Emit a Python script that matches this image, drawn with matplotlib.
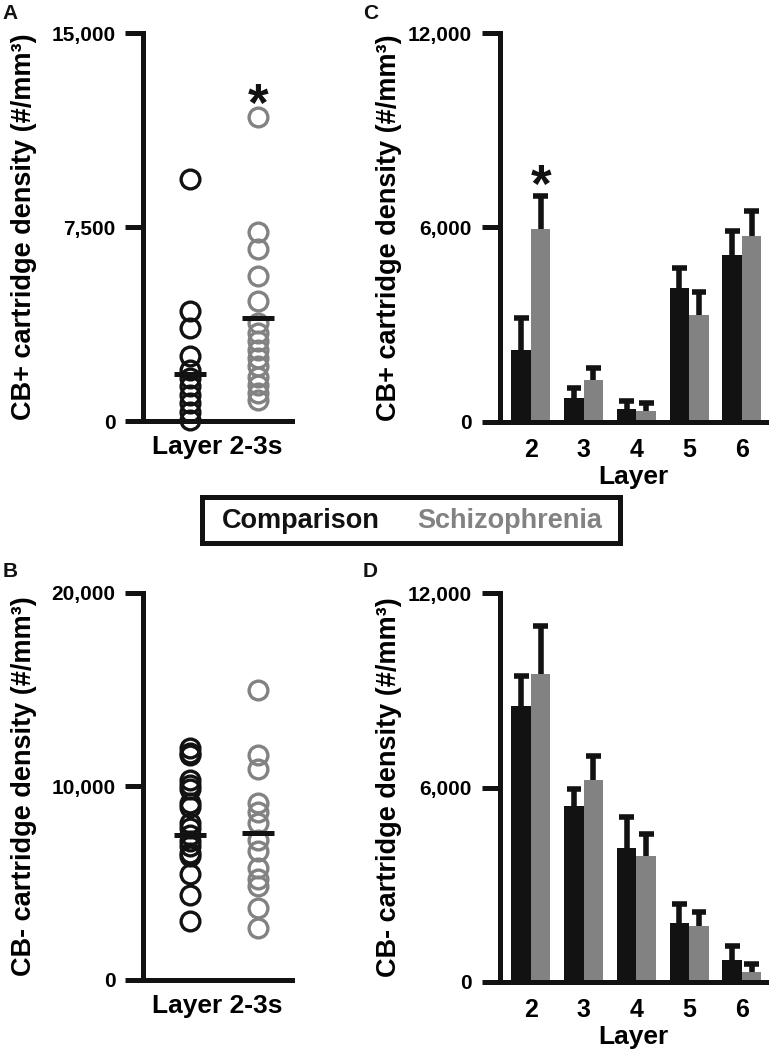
import numpy as np
import matplotlib
matplotlib.use("Agg")
import matplotlib.pyplot as plt
from matplotlib.patches import Rectangle

plt.rcParams['font.family'] = ['Liberation Sans', 'DejaVu Sans']
plt.rcParams['font.weight'] = 'bold'

BLACK = '#121212'
GRAY = '#828282'

# Panel A: CB+ density, layer 2-3s, individual subjects
a_comp = [9350, 4250, 3600, 2500, 1980, 1660, 1360, 1010, 690, 360, 40]
a_schiz = [11750, 7300, 6650, 5600, 4650, 3800, 3400, 3080, 2760, 2440,
           2110, 1720, 1400, 1080, 800]
a_means = [1800, 4000]
a_yticks = [0, 7500, 15000]
a_yticklabels = ['0', '7,500', '15,000']

# Panel B: CB- density, layer 2-3s
b_comp = [12000, 11750, 11650, 10350, 10100, 9850, 9150, 8950, 8100, 7850,
          7500, 7200, 6900, 6550, 6400, 5450, 4400, 3050]
b_schiz = [15000, 11650, 10900, 9150, 8700, 8100, 7250, 6650, 5800, 5200,
           4850, 3700, 2700]
b_means = [7500, 7600]
b_yticks = [0, 10000, 20000]
b_yticklabels = ['0', '10,000', '20,000']

# Panels C and D: mean + SEM by layer
layers = [2, 3, 4, 5, 6]
c_comp = [2200, 720, 380, 4120, 5150]
c_comp_err = [1000, 310, 260, 620, 750]
c_schiz = [5950, 1290, 340, 3300, 5740]
c_schiz_err = [1020, 360, 230, 720, 780]

d_comp = [8530, 5420, 4130, 1830, 680]
d_comp_err = [930, 520, 950, 580, 410]
d_schiz = [9510, 6240, 3900, 1710, 300]
d_schiz_err = [1490, 720, 660, 430, 260]
cd_yticks = [0, 6000, 12000]
cd_yticklabels = ['0', '6,000', '12,000']

ylab_plus = 'CB+ cartridge density (#/mm³)'
ylab_minus = 'CB- cartridge density (#/mm³)'

fig = plt.figure(figsize=(7.69, 10.5), dpi=100)
axA = fig.add_axes([0.186, 0.599, 0.194, 0.3695])
axB = fig.add_axes([0.186, 0.0667, 0.194, 0.3686])
axC = fig.add_axes([0.650, 0.5984, 0.347, 0.3699])
axD = fig.add_axes([0.650, 0.065, 0.347, 0.3699])


def style_axes(ax, yticks, yticklabels, ylabel, labx):
    for s in ['top', 'right']:
        ax.spines[s].set_visible(False)
    for s in ['left', 'bottom']:
        ax.spines[s].set_linewidth(3.6)
        ax.spines[s].set_color(BLACK)
    ax.set_ylim(yticks[0], yticks[-1])
    ax.set_yticks(yticks)
    ax.set_yticklabels(yticklabels)
    ax.tick_params(axis='y', length=13, width=3.6, pad=7, labelsize=15,
                   color=BLACK)
    ax.set_ylabel(ylabel, fontsize=19.5, fontweight='bold')
    ax.yaxis.set_label_coords(labx, 0.5)


def scatter_panel(ax, comp, schiz, means, yticks, yticklabels, ylabel):
    style_axes(ax, yticks, yticklabels, ylabel, -0.711)
    ax.plot([1] * len(comp), comp, 'o', ms=13.5, mfc='none', mec=BLACK,
            mew=2.4, clip_on=False)
    ax.plot([2] * len(schiz), schiz, 'o', ms=13.5, mfc='none', mec=GRAY,
            mew=2.4, clip_on=False)
    ax.hlines(means, [0.77, 1.77], [1.23, 2.23], colors=BLACK, lw=3.6,
              zorder=5)
    ax.set_xlim(0.31, 2.5)
    ax.set_xticks([])
    ax.set_xlabel('Layer 2-3s', fontsize=19, fontweight='bold', labelpad=10)


def bar_panel(ax, comp, comp_err, schiz, schiz_err, ylabel):
    style_axes(ax, cd_yticks, cd_yticklabels, ylabel, -0.367)
    x = np.array(layers, dtype=float)
    w = 0.37
    for xs, m, e, col in [(x - w / 2, comp, comp_err, BLACK),
                          (x + w / 2, schiz, schiz_err, GRAY)]:
        m = np.array(m)
        e = np.array(e)
        ax.bar(xs, m, width=w, color=col, edgecolor='none', zorder=2)
        ax.vlines(xs, m, m + e, colors=BLACK, lw=4, zorder=3)
        ax.hlines(m + e, xs - 0.14, xs + 0.14, colors=BLACK, lw=4, zorder=3)
    ax.set_xlim(1.41, 6.47)
    ax.set_xticks(layers)
    ax.set_xticklabels([str(l) for l in layers])
    ax.tick_params(axis='x', length=0, pad=12, labelsize=18)
    ax.set_xlabel('Layer', fontsize=19, fontweight='bold', labelpad=2)


scatter_panel(axA, a_comp, a_schiz, a_means, a_yticks, a_yticklabels,
              ylab_plus)
scatter_panel(axB, b_comp, b_schiz, b_means, b_yticks, b_yticklabels,
              ylab_minus)
bar_panel(axC, c_comp, c_comp_err, c_schiz, c_schiz_err, ylab_plus)
bar_panel(axD, d_comp, d_comp_err, d_schiz, d_schiz_err, ylab_minus)

# significance stars
axA.text(2, 12150, '*', ha='center', va='center', fontsize=38,
         fontweight='bold', color=BLACK)
axC.text(2 + 0.185, 7220, '*', ha='center', va='center', fontsize=38,
         fontweight='bold', color=BLACK)

# legend box
fig.patches.append(Rectangle((0.2627, 0.4829), 0.5436, 0.0438,
                             transform=fig.transFigure, fill=False,
                             edgecolor=BLACK, lw=3.6))
fig.text(0.2887, 0.5038, 'Comparison', ha='left', va='center', fontsize=19.5,
         fontweight='bold', color=BLACK)
fig.text(0.5423, 0.5038, 'Schizophrenia', ha='left', va='center',
         fontsize=19.5, fontweight='bold', color=GRAY)

# panel letters
for lx, ly, letter in [(0.003, 0.996, 'A'), (0.472, 0.996, 'C'),
                       (0.003, 0.465, 'B'), (0.472, 0.465, 'D')]:
    fig.text(lx, ly, letter, ha='left', va='top', fontsize=15,
             fontweight='bold', color=BLACK)

fig.savefig('out.png', dpi=100)
